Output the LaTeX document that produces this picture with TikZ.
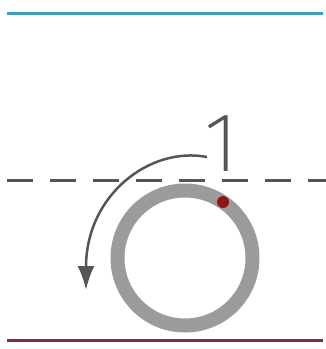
\documentclass[tikz,border=0pt]{standalone}
\usepackage{fontspec}
\newfontfamily\thinfont{Fira Sans ExtraLight}
\usetikzlibrary{arrows.meta}
\definecolor{lineblue}{HTML}{3E9FBF}
\definecolor{linered}{HTML}{8A2C40}
\definecolor{darkgray}{HTML}{555555}
\definecolor{ringgray}{HTML}{9B9B9B}
\definecolor{dotred}{HTML}{8E1616}
\tikzset{
    ring/.style={circle, draw=ringgray, line width=14pt, minimum size=135pt, inner sep=0pt},
    dot/.style={circle, fill=dotred, minimum size=12pt, inner sep=0pt},
    digit/.style={text=darkgray, inner sep=0pt, font=\thinfont\fontsize{84}{84}\selectfont}
}
\begin{document}
\begin{tikzpicture}[x=1pt, y=-1pt]
                \useasboundingbox (0,0) rectangle (326,349);
                % Lignes haut et bas
                \draw[lineblue, line width=3pt] (7,13) -- (323,13);
                \draw[linered, line width=3pt] (7,340) -- (323,340);
                
                % Ligne pointillee
                \draw[darkgray, line width=3pt, dash pattern=on 26pt off 17pt] (7,180) -- (326,180);
                
                % Anneau et point
                \node[ring] (wheel) at (185,258) {};
                \node[dot] (mark) at (223,202) {};
                
                % Etiquette
                \node[digit, anchor=south] (one) at (222,172) {1};
                
                % Fleche de rotation
                \coordinate (start) at (207,157);
                \coordinate (tip) at (86,290);
                \draw[darkgray, line width=2.5pt, -{Latex[length=24pt, width=17pt]}] (start) .. controls (150,146) and (86,195) .. (tip);

            \end{tikzpicture}
\end{document}
